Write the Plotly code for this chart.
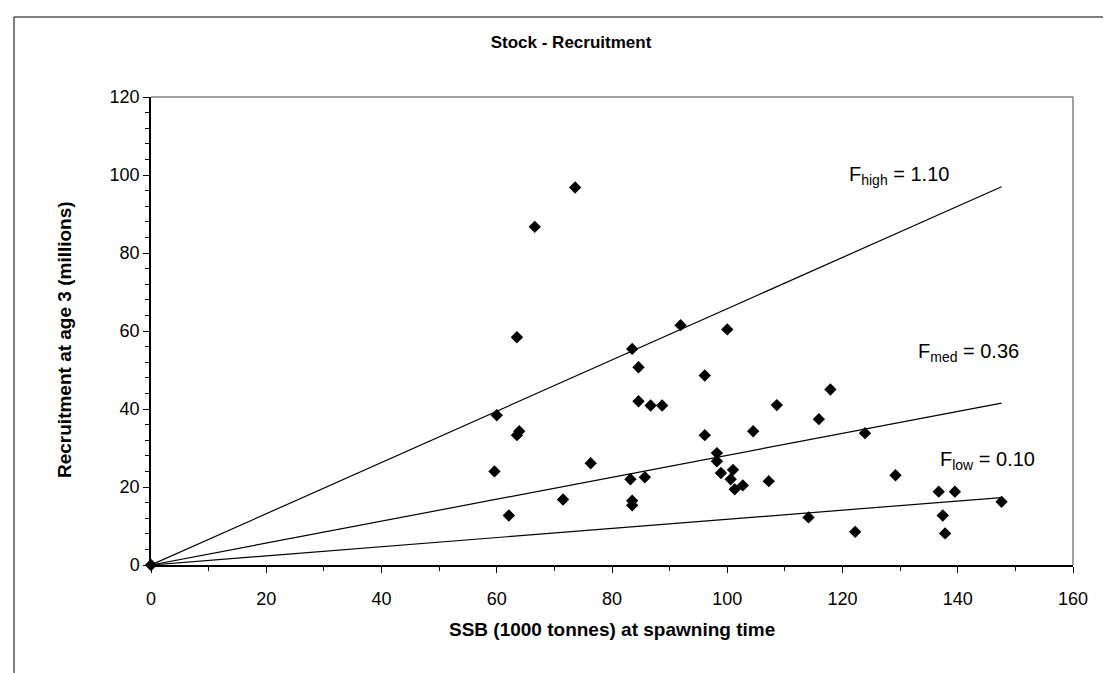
import plotly.graph_objects as go

# Data: SSB (1000 t) and recruitment at age 3 (millions)
ssb = [59.6, 60.0, 62.1, 63.5, 63.5, 63.9, 66.6, 71.5, 73.6, 76.3,
       83.2, 83.5, 83.5, 83.5, 84.6, 84.6, 85.7, 86.7, 88.7, 91.9,
       96.1, 96.1, 98.2, 98.2, 98.9, 100.0, 100.6, 101.0, 101.3, 102.7,
       104.5, 107.2, 108.6, 114.1, 115.9, 117.9, 122.2, 123.9, 129.2, 136.7,
       137.4, 137.8, 139.5, 147.6]
recruit = [24.0, 38.4, 12.7, 58.4, 33.3, 34.3, 86.7, 16.8, 96.8, 26.1,
           22.0, 55.4, 16.5, 15.3, 50.7, 42.0, 22.5, 40.9, 40.9, 61.5,
           48.6, 33.3, 28.7, 26.6, 23.6, 60.4, 22.0, 24.4, 19.4, 20.4,
           34.3, 21.5, 41.0, 12.2, 37.4, 45.0, 8.5, 33.8, 23.0, 18.8,
           12.7, 8.1, 18.8, 16.2]

origin_x = [0]
origin_y = [0]

line_ssb = [0, 147.6]
line_high = [0, 97.0]
line_med = [0, 41.5]
line_low = [0, 17.3]

ref_labels = ["F<sub>high</sub> = 1.10", "F<sub>med</sub> = 0.36", "F<sub>low</sub> = 0.10"]
ref_label_x = [120.7, 132.7, 136.5]
ref_label_y = [100.0, 54.6, 26.7]

x_ticks = [0, 20, 40, 60, 80, 100, 120, 140, 160]
y_ticks = [0, 20, 40, 60, 80, 100, 120]

FONT = "Liberation Sans, Arial, sans-serif"

# plot-area geometry (pixels)
L, R, T, B = 143, 1065, 89, 557
PW, PH = R - L, B - T

fig = go.Figure()
for ly in (line_high, line_med, line_low):
    fig.add_trace(go.Scatter(x=line_ssb, y=ly, mode="lines",
                             line=dict(color="black", width=1.2),
                             showlegend=False, hoverinfo="skip"))
fig.add_trace(go.Scatter(x=ssb, y=recruit, mode="markers",
                         marker=dict(symbol="diamond", size=9.5, color="black"),
                         showlegend=False))
fig.add_trace(go.Scatter(x=origin_x, y=origin_y, mode="markers",
                         marker=dict(symbol="diamond", size=9.5, color="black"),
                         showlegend=False, cliponaxis=False))

for t, xx, yy in zip(ref_labels, ref_label_x, ref_label_y):
    fig.add_annotation(x=xx, y=yy, text=t, showarrow=False,
                       xanchor="left", yanchor="middle",
                       font=dict(family=FONT, size=20, color="black"))

# axis titles as annotations for exact placement
fig.add_annotation(xref="paper", yref="paper", x=(56 - L) / PW, y=(B - 332) / PH,
                   text="<b>Recruitment at age 3 (millions)</b>", textangle=-90,
                   showarrow=False, xanchor="center", yanchor="middle",
                   font=dict(family=FONT, size=19, color="black"))
fig.add_annotation(xref="paper", yref="paper", x=0.5, y=(B - 621) / PH,
                   text="<b>SSB (1000 tonnes) at spawning time</b>",
                   showarrow=False, xanchor="center", yanchor="middle",
                   font=dict(family=FONT, size=19, color="black"))

fig.update_layout(
    width=1111, height=673,
    margin=dict(l=L, r=1111 - R, t=T, b=673 - B),
    paper_bgcolor="white", plot_bgcolor="white",
    font=dict(family=FONT, color="black"),
    title=dict(text="<b>Stock - Recruitment</b>", x=563 / 1111, xref="container",
               xanchor="center", y=1 - 34 / 673, yref="container", yanchor="middle",
               font=dict(family=FONT, size=17, color="black")),
    xaxis=dict(range=[0, 160], tickvals=x_ticks, ticks="outside", ticklen=6,
               tickcolor="black", showline=True, linecolor="black", linewidth=1.5,
               showgrid=False, zeroline=False, ticklabelstandoff=11,
               minor=dict(dtick=10, ticks="outside", ticklen=4, tickcolor="black"),
               tickfont=dict(family=FONT, size=18)),
    yaxis=dict(range=[0, 120], tickvals=y_ticks, ticks="outside", ticklen=6,
               tickcolor="black", showline=True, linecolor="black", linewidth=1.5,
               showgrid=False, zeroline=False,
               minor=dict(dtick=4, ticks="outside", ticklen=4, tickcolor="black"),
               tickfont=dict(family=FONT, size=18)),
    shapes=[
        dict(type="line", xref="paper", yref="paper", x0=0, x1=1, y0=1, y1=1,
             line=dict(color="#808080", width=1.5)),
        dict(type="line", xref="paper", yref="paper", x0=1, x1=1, y0=0, y1=1,
             line=dict(color="#808080", width=1.5)),
        dict(type="rect", xref="paper", yref="paper",
             x0=(6 - L) / PW, x1=(1105 - L) / PW,
             y0=(B - 700) / PH, y1=(B - 9) / PH,
             line=dict(color="black", width=1), fillcolor="rgba(0,0,0,0)"),
    ],
)

fig.write_html("out.html")
